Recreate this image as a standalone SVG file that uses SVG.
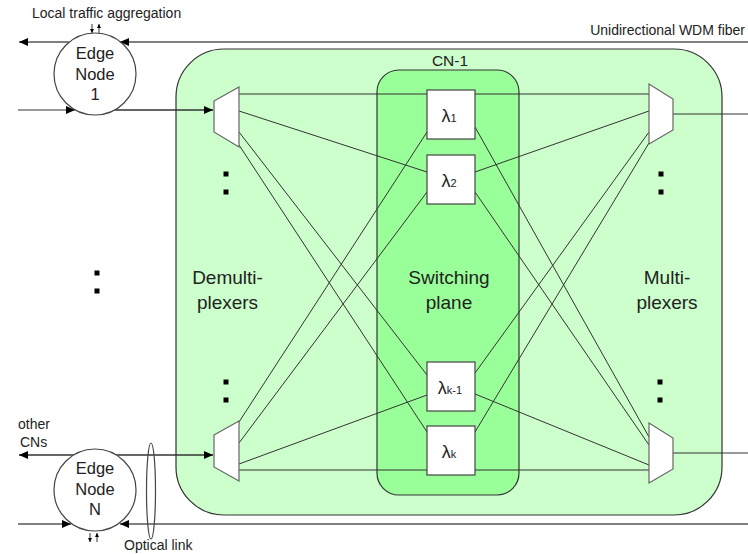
<svg xmlns="http://www.w3.org/2000/svg" width="748" height="554" viewBox="0 0 748 554">
<style>
text{font-family:"Liberation Sans",Arial,sans-serif;fill:#222}
.sm{font-size:14px}
.node{font-size:16.5px;text-anchor:middle}
.big{font-size:19px;text-anchor:middle}
.lam{font-size:18px;text-anchor:middle}
.sub{font-size:11px}
.fib{stroke:#808080;stroke-width:2.2;fill:none}
.lnk{stroke:#333;stroke-width:1.3;fill:none}
.thin{stroke:#333;stroke-width:1;fill:none}
.trap{fill:#fff;stroke:#666;stroke-width:1.2}
.box{fill:#fff;stroke:#444;stroke-width:1.2}
.circ{fill:#fff;stroke:#444;stroke-width:1.2}
.dot{fill:#000}
</style>
<defs>
<marker id="ah" markerUnits="userSpaceOnUse" markerWidth="9" markerHeight="8" refX="9" refY="4" orient="auto"><path d="M0,0 L9,4 L0,8 z" fill="#000"/></marker>
<marker id="sa" markerUnits="userSpaceOnUse" markerWidth="4" markerHeight="4" refX="4" refY="2" orient="auto"><path d="M0,0 L4,2 L0,4 z" fill="#000"/></marker>
</defs>

<g id="cn1">
<rect x="176" y="49" width="546" height="466" rx="48" ry="48" fill="#ccffcc" stroke="#333" stroke-width="1.2"/>
<text x="450" y="66" style="font-size:15.5px;text-anchor:middle">CN-1</text>
</g>
<g id="switching-plane">
<rect x="377" y="70" width="142" height="425" rx="22" ry="22" fill="#99ff99" stroke="#333" stroke-width="1.2"/>
<text class="big" x="449" y="284">Switching</text>
<text class="big" x="449" y="309">plane</text>
</g>
<g id="demux-label">
<text class="big" x="227.5" y="284">Demulti-</text>
<text class="big" x="227.5" y="309">plexers</text>
</g>
<g id="mux-label">
<text class="big" x="667" y="284">Multi-</text>
<text class="big" x="667" y="309">plexers</text>
</g>

<g id="connectors">
<line class="fib" x1="748" y1="42" x2="120" y2="42" marker-end="url(#ah)"/>
<line class="fib" x1="69" y1="42" x2="19" y2="42" marker-end="url(#ah)"/>
<line class="thin" x1="18" y1="110" x2="75" y2="110" marker-end="url(#ah)"/>
<line class="lnk" x1="115" y1="110" x2="213" y2="110" marker-end="url(#ah)"/>
<line class="lnk" x1="116" y1="455" x2="213" y2="455" marker-end="url(#ah)"/>
<line class="lnk" x1="74" y1="455" x2="19" y2="455" marker-end="url(#ah)"/>
<line class="fib" x1="18" y1="524" x2="71" y2="524" marker-end="url(#ah)"/>
<line class="fib" x1="748" y1="524" x2="120" y2="524" marker-end="url(#ah)"/>
<line class="thin" x1="673" y1="114" x2="748" y2="114"/>
<line class="thin" x1="673" y1="453" x2="748" y2="453"/>
<line class="thin" x1="239" y1="94" x2="649" y2="94"/>
<line class="thin" x1="239" y1="111" x2="427" y2="172"/>
<line class="thin" x1="239" y1="132" x2="427" y2="375"/>
<line class="thin" x1="239" y1="145" x2="427" y2="432"/>
<line class="thin" x1="239" y1="470" x2="649" y2="470"/>
<line class="thin" x1="239" y1="464" x2="427" y2="395"/>
<line class="thin" x1="239" y1="443" x2="427" y2="192"/>
<line class="thin" x1="239" y1="422" x2="427" y2="132"/>
<line class="thin" x1="475" y1="172" x2="649" y2="111"/>
<line class="thin" x1="475" y1="373" x2="649" y2="132"/>
<line class="thin" x1="475" y1="432" x2="649" y2="143"/>
<line class="thin" x1="475" y1="127" x2="649" y2="437"/>
<line class="thin" x1="475" y1="192" x2="649" y2="445"/>
<line class="thin" x1="475" y1="394" x2="649" y2="465"/>
<line class="thin" x1="92" y1="24" x2="92" y2="33" marker-end="url(#sa)"/>
<line class="thin" x1="99" y1="33" x2="99" y2="24" marker-end="url(#sa)"/>
<line class="thin" x1="90" y1="533" x2="90" y2="542" marker-end="url(#sa)"/>
<line class="thin" x1="97" y1="542" x2="97" y2="533" marker-end="url(#sa)"/>
</g>

<g id="demux-1"><polygon class="trap" points="214,101 239,87 239,147 214,132"/></g>
<g id="demux-n"><polygon class="trap" points="214,435 239,421 239,481 214,467"/></g>
<g id="mux-1"><polygon class="trap" points="649,84 673,99 673,130 649,144"/></g>
<g id="mux-n"><polygon class="trap" points="649,423 673,438 673,469 649,483"/></g>

<g id="lambda-1"><rect class="box" x="427" y="90" width="48" height="49"/><text class="lam" x="449" y="122">λ<tspan class="sub">1</tspan></text></g>
<g id="lambda-2"><rect class="box" x="427" y="155" width="48" height="49"/><text class="lam" x="449" y="187">λ<tspan class="sub">2</tspan></text></g>
<g id="lambda-k-1"><rect class="box" x="427" y="362" width="48" height="49"/><text class="lam" x="450" y="394">λ<tspan class="sub">k-1</tspan></text></g>
<g id="lambda-k"><rect class="box" x="427" y="426" width="48" height="49"/><text class="lam" x="449" y="458">λ<tspan class="sub">k</tspan></text></g>

<g id="edge-node-1">
<circle class="circ" cx="95" cy="74" r="41"/>
<text class="node" x="95" y="59">Edge</text>
<text class="node" x="95" y="80">Node</text>
<text class="node" x="95" y="100">1</text>
</g>
<g id="edge-node-n">
<circle class="circ" cx="95" cy="490" r="41"/>
<text class="node" x="95" y="474">Edge</text>
<text class="node" x="95" y="495">Node</text>
<text class="node" x="95" y="515">N</text>
</g>
<g id="optical-link">
<ellipse cx="151" cy="491" rx="4.5" ry="48" fill="none" stroke="#444" stroke-width="1.2"/>
</g>

<g id="dots">
<rect class="dot" x="223.5" y="171.5" width="5" height="5"/>
<rect class="dot" x="223.5" y="189.5" width="5" height="5"/>
<rect class="dot" x="223.5" y="379.5" width="5" height="5"/>
<rect class="dot" x="223.5" y="397.5" width="5" height="5"/>
<rect class="dot" x="658.5" y="171.5" width="5" height="5"/>
<rect class="dot" x="658.5" y="189.5" width="5" height="5"/>
<rect class="dot" x="657.5" y="379.5" width="5" height="5"/>
<rect class="dot" x="657.5" y="397.5" width="5" height="5"/>
<rect class="dot" x="94.5" y="270.5" width="5" height="5"/>
<rect class="dot" x="94.5" y="288.5" width="5" height="5"/>
</g>

<g id="labels">
<text class="sm" x="32" y="18">Local traffic aggregation</text>
<text class="sm" x="745" y="35" text-anchor="end">Unidirectional WDM fiber</text>
<text class="sm" x="18" y="429">other</text>
<text class="sm" x="20" y="447">CNs</text>
<text class="sm" x="124" y="550">Optical link</text>
</g>
</svg>
